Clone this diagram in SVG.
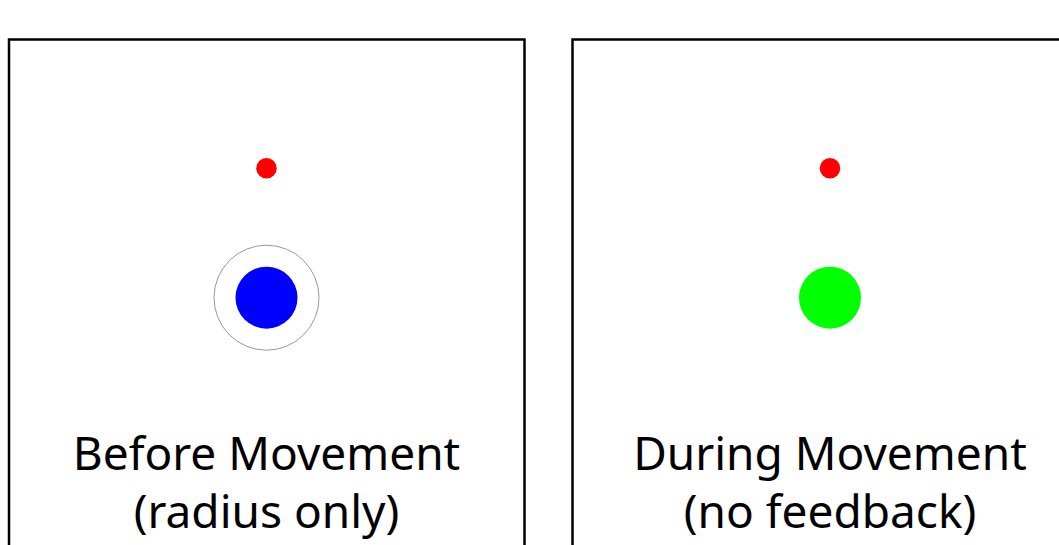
<svg xmlns="http://www.w3.org/2000/svg" width="1059" height="545" viewBox="0 0 1059 545">
  <style>
    .panel { fill: #ffffff; stroke: #000000; stroke-width: 2.5; }
    .target { fill: #ff0000; }
    .label { font-family: "Noto Sans", "Open Sans", sans-serif; font-size: 46px; fill: #000000; text-anchor: middle; }
  </style>
  <rect width="1059" height="545" fill="#ffffff"/>

  <!-- Left panel: cursor with radius indicator -->
  <g id="panel-before">
    <rect class="panel" x="9" y="39.5" width="515.5" height="560"/>
    <circle class="target" cx="266.5" cy="168.3" r="10.3"/>
    <circle cx="266.5" cy="297.7" r="52.5" fill="none" stroke="#999999" stroke-width="1"/>
    <circle cx="266.5" cy="297.7" r="31" fill="#0000ff"/>
    <text class="label" x="266.5" y="470">Before Movement</text>
    <text class="label" x="266.5" y="528">(radius only)</text>
  </g>

  <!-- Right panel: cursor without feedback -->
  <g id="panel-during">
    <rect class="panel" x="572.5" y="39.5" width="515.5" height="560"/>
    <circle class="target" cx="830" cy="168.3" r="10.3"/>
    <circle cx="830" cy="297.7" r="31" fill="#00ff00"/>
    <text class="label" x="830" y="470">During Movement</text>
    <text class="label" x="830" y="528">(no feedback)</text>
  </g>

  <g id="connectors"/>
</svg>
